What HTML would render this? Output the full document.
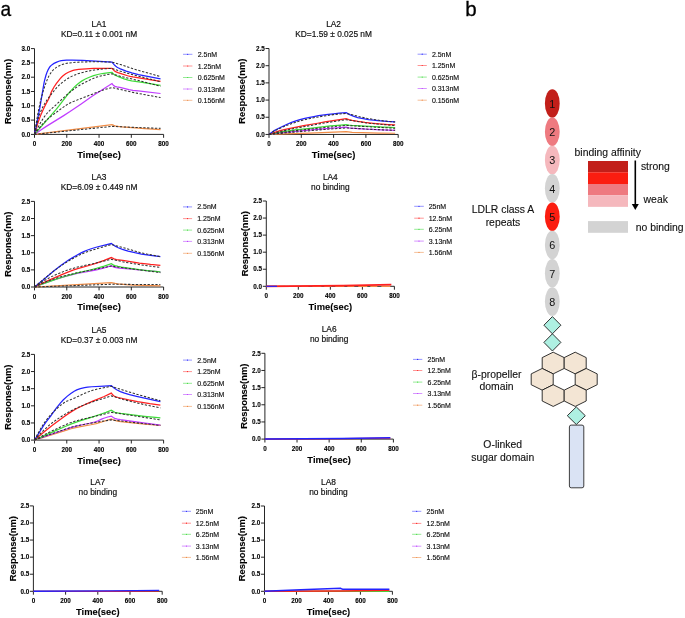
<!DOCTYPE html><html><head><meta charset="utf-8"><style>
html,body{margin:0;padding:0;background:#fff;}
body{width:685px;height:618px;overflow:hidden;}
svg{display:block;will-change:transform;}
text{font-family:"Liberation Sans", sans-serif;}
.ti{font-size:8.35px;fill:#111;stroke:#111;stroke-width:0.18px;text-anchor:middle;}
.tk{font-size:6.3px;font-weight:bold;fill:#000;stroke:#000;stroke-width:0.12px;}
.al{font-size:9.4px;font-weight:bold;fill:#000;stroke:#000;stroke-width:0.1px;text-anchor:middle;}
.lg{font-size:7px;fill:#111;stroke:#111;stroke-width:0.15px;}
.ax{stroke:#1a1a1a;stroke-width:0.95;fill:none;}
.fit{fill:none;stroke:#303030;stroke-width:1.05;stroke-dasharray:2.3 1.6;}
.fit2{fill:none;stroke:#1a1a1a;stroke-width:1.0;stroke-dasharray:2.6 1.9;opacity:0.55;}
.pl{font-size:19px;fill:#000;stroke:#000;stroke-width:0.3px;}
.on{font-size:10.8px;fill:#111;text-anchor:middle;}
.dm{fill:#aef0e2;stroke:#1e1e1e;stroke-width:0.9;}
.hx{fill:#f3e5d4;stroke:#1e1e1e;stroke-width:0.9;}
.rc{fill:#dae3f4;stroke:#2a2a2a;stroke-width:0.9;}
.bt{font-size:10.4px;fill:#111;stroke:#111;stroke-width:0.12px;text-anchor:middle;}
.bl{font-size:10.4px;fill:#111;stroke:#111;stroke-width:0.12px;}
</style></head><body>
<svg width="685" height="618" viewBox="0 0 685 618">
<text x="99.05" y="27" class="ti">LA1</text>
<text x="99.05" y="37" class="ti">KD=0.11 ± 0.001 nM</text>
<path d="M34.5 48.6 V134.4 H163.6" class="ax"/>
<path d="M31 134.4 H34.5" class="ax"/>
<text x="30.3" y="136.6" class="tk" text-anchor="end">0.0</text>
<path d="M31 120.1 H34.5" class="ax"/>
<text x="30.3" y="122.3" class="tk" text-anchor="end">0.5</text>
<path d="M31 105.8 H34.5" class="ax"/>
<text x="30.3" y="108" class="tk" text-anchor="end">1.0</text>
<path d="M31 91.5 H34.5" class="ax"/>
<text x="30.3" y="93.7" class="tk" text-anchor="end">1.5</text>
<path d="M31 77.2 H34.5" class="ax"/>
<text x="30.3" y="79.4" class="tk" text-anchor="end">2.0</text>
<path d="M31 62.9 H34.5" class="ax"/>
<text x="30.3" y="65.1" class="tk" text-anchor="end">2.5</text>
<path d="M31 48.6 H34.5" class="ax"/>
<text x="30.3" y="50.8" class="tk" text-anchor="end">3.0</text>
<path d="M34.5 134.4 V137.8" class="ax"/>
<text x="34.5" y="146.1" class="tk" text-anchor="middle">0</text>
<path d="M66.78 134.4 V137.8" class="ax"/>
<text x="66.78" y="146.1" class="tk" text-anchor="middle">200</text>
<path d="M99.05 134.4 V137.8" class="ax"/>
<text x="99.05" y="146.1" class="tk" text-anchor="middle">400</text>
<path d="M131.32 134.4 V137.8" class="ax"/>
<text x="131.32" y="146.1" class="tk" text-anchor="middle">600</text>
<path d="M163.6 134.4 V137.8" class="ax"/>
<text x="163.6" y="146.1" class="tk" text-anchor="middle">800</text>
<path d="M34.5 134.4 L111.96 124.68 L113.9 125.45 L115.03 125.79 L118.25 126.32 L122.13 126.77 L144.88 128.61 L160.53 129.54" fill="none" stroke="#f08c46" stroke-width="1.25"/>
<path d="M34.5 134.4 L40.47 130.25 L46.28 126.4 L63.71 115.62 L70 111.6 L80.81 104.26 L92.43 96.08 L111.96 83.49 L112.77 84.66 L113.41 85.36 L114.22 85.92 L115.03 86.3 L116.8 86.79 L121 87.61 L128.9 89.57 L132.94 90.26 L138.26 90.98 L160.53 93.5" fill="none" stroke="#c03cff" stroke-width="1.25"/>
<path d="M34.5 134.4 L55.96 109.56 L59.35 105.37 L67.42 94.91 L69.84 91.99 L74.04 87.42 L76.62 84.99 L78.72 83.2 L81.62 81.15 L85.33 79.05 L89.37 77.23 L93.56 75.68 L97.76 74.5 L102.28 73.51 L107.44 72.76 L111.96 72.34 L112.93 73.44 L113.9 74.32 L115.03 75.11 L116.32 75.78 L118.41 76.69 L124.06 78.84 L128.26 80.21 L131.65 80.92 L142.3 82.39 L160.53 85.49" fill="none" stroke="#3fdc3a" stroke-width="1.25"/>
<path d="M34.5 134.4 L37.57 124.04 L39.02 119.72 L40.47 115.87 L42.25 111.66 L44.51 106.82 L45.96 103.87 L48.38 99.55 L49.35 97.59 L49.83 96.4 L51.12 92.57 L51.77 91.1 L53.86 87.25 L56.29 83.66 L60 78.86 L61.45 77.26 L62.74 76.05 L65.65 73.83 L68.39 72.21 L72.42 70.59 L74.04 70.11 L75.49 69.81 L78.56 69.49 L93.56 68.39 L111.96 68.33 L114.54 70.96 L116.16 71.88 L117.93 72.61 L122.61 74.2 L127.61 75.75 L130.03 76.34 L132.94 76.9 L149.56 79.58 L160.53 81.49" fill="none" stroke="#ff2020" stroke-width="1.25"/>
<path d="M34.5 134.4 L39.83 107.8 L43.86 83.95 L44.51 80.63 L45.96 75.23 L47.25 71.63 L48.22 69.59 L49.19 67.86 L50.15 66.47 L50.96 65.61 L52.41 64.43 L54.03 63.42 L56.77 62.09 L58.87 61.22 L61.13 60.63 L66.45 60.13 L72.1 60.06 L82.75 60.37 L111.96 62.04 L114.7 65.32 L115.83 66.28 L117.12 67.18 L118.58 68.01 L120.35 68.84 L126.16 71.09 L131.81 72.85 L138.43 74.52 L160.53 78.92" fill="none" stroke="#2323ff" stroke-width="1.25"/>
<path d="M34.5 134.4 L36.6 120.77 L38.53 110.21 L40.63 100.59 L42.89 92.19 L44.18 88.04 L45.47 84.31 L46.93 80.41 L48.22 77.35 L49.19 75.48 L50.8 72.93 L52.25 71 L53.54 69.62 L54.99 68.42 L56.77 67.16 L58.38 66.2 L60 65.41 L62.1 64.62 L64.68 63.83 L66.94 63.29 L69.03 62.94 L73.23 62.51 L77.59 62.21 L89.04 61.84 L100.18 61.77 L111.96 62.04 L120.51 64.62 L129.71 67.66 L138.1 70.29 L151.34 73.95 L160.53 76.63" class="fit"/>
<path d="M34.5 134.4 L36.76 124.34 L38.7 117.17 L39.66 114.25 L40.63 111.76 L41.76 109.18 L43.05 106.58 L44.99 103.15 L47.09 99.84 L49.02 97.18 L53.06 92.01 L55.16 89.41 L56.93 87.42 L59.19 85.2 L61.45 83.17 L63.55 81.46 L65.48 80.06 L68.23 78.28 L70.65 76.89 L72.75 75.84 L75.01 74.89 L77.75 73.87 L80.49 73 L87.43 71.28 L94.21 70.03 L104.21 68.85 L111.96 68.33 L120.51 71.19 L129.87 74.01 L150.69 79.2 L160.53 81.78" class="fit"/>
<path d="M34.5 134.4 L37.89 127.51 L40.95 121.92 L43.7 117.58 L46.44 113.97 L48.22 111.99 L50.31 109.9 L56.77 104.11 L64.03 97.27 L67.58 94.13 L71.13 91.27 L76.3 87.42 L80.81 84.54 L84.04 82.85 L94.69 77.76 L97.11 76.9 L100.66 75.97 L106.8 74.67 L111.96 73.77 L116.96 75.34 L121.48 76.6 L140.52 81 L160.53 86.35" class="fit"/>
<path d="M34.5 134.4 L37.89 129.81 L40.95 126 L43.86 122.75 L46.76 119.9 L49.67 117.39 L53.06 114.74 L63.06 107.31 L67.1 104.61 L70 103.02 L73.71 101.37 L97.6 92.09 L104.21 89.73 L111.96 87.5 L131.65 92.13 L149.08 95.49 L160.53 97.51" class="fit"/>
<path d="M34.5 134.4 L111.96 126.39 L134.88 127.4 L160.53 128.39" class="fit"/>
<text x="99.05" y="157.8" class="al">Time(sec)</text>
<text transform="translate(10.9 91.5) rotate(-90)" x="0" y="0" class="al">Response(nm)</text>
<path d="M183 54.3 H192.4" stroke="#8a8aff" stroke-width="0.9"/>
<circle cx="187.7" cy="54.3" r="0.6" fill="#2323ff"/>
<text x="197.7" y="56.8" class="lg">2.5nM</text>
<path d="M183 66 H192.4" stroke="#ff8a8a" stroke-width="0.9"/>
<circle cx="187.7" cy="66" r="0.6" fill="#ff2020"/>
<text x="197.7" y="68.5" class="lg">1.25nM</text>
<path d="M183 77.5 H192.4" stroke="#8ae88a" stroke-width="0.9"/>
<circle cx="187.7" cy="77.5" r="0.6" fill="#3fdc3a"/>
<text x="197.7" y="80" class="lg">0.625nM</text>
<path d="M183 89 H192.4" stroke="#d28aff" stroke-width="0.9"/>
<circle cx="187.7" cy="89" r="0.6" fill="#c03cff"/>
<text x="197.7" y="91.5" class="lg">0.313nM</text>
<path d="M183 100.3 H192.4" stroke="#f4b98f" stroke-width="0.9"/>
<circle cx="187.7" cy="100.3" r="0.6" fill="#f08c46"/>
<text x="197.7" y="102.8" class="lg">0.156nM</text>
<text x="333.6" y="27" class="ti">LA2</text>
<text x="333.6" y="37" class="ti">KD=1.59 ± 0.025 nM</text>
<path d="M269 48.5 V134.45 H398.2" class="ax"/>
<path d="M265.5 134.45 H269" class="ax"/>
<text x="264.8" y="136.65" class="tk" text-anchor="end">0.0</text>
<path d="M265.5 117.26 H269" class="ax"/>
<text x="264.8" y="119.46" class="tk" text-anchor="end">0.5</text>
<path d="M265.5 100.07 H269" class="ax"/>
<text x="264.8" y="102.27" class="tk" text-anchor="end">1.0</text>
<path d="M265.5 82.88 H269" class="ax"/>
<text x="264.8" y="85.08" class="tk" text-anchor="end">1.5</text>
<path d="M265.5 65.69 H269" class="ax"/>
<text x="264.8" y="67.89" class="tk" text-anchor="end">2.0</text>
<path d="M265.5 48.5 H269" class="ax"/>
<text x="264.8" y="50.7" class="tk" text-anchor="end">2.5</text>
<path d="M269 134.45 V137.85" class="ax"/>
<text x="269" y="146.15" class="tk" text-anchor="middle">0</text>
<path d="M301.3 134.45 V137.85" class="ax"/>
<text x="301.3" y="146.15" class="tk" text-anchor="middle">200</text>
<path d="M333.6 134.45 V137.85" class="ax"/>
<text x="333.6" y="146.15" class="tk" text-anchor="middle">400</text>
<path d="M365.9 134.45 V137.85" class="ax"/>
<text x="365.9" y="146.15" class="tk" text-anchor="middle">600</text>
<path d="M398.2 134.45 V137.85" class="ax"/>
<text x="398.2" y="146.15" class="tk" text-anchor="middle">800</text>
<path d="M269 134.45 L309.7 133.09 L346.2 131.7 L352.17 132.34 L362.35 132.72 L378.82 133.12 L395.13 133.25" fill="none" stroke="#f08c46" stroke-width="1.25"/>
<path d="M269 134.45 L276.27 133.43 L282.89 132.62 L303.56 130.58 L323.1 128.9 L346.2 127.23 L348.78 127.77 L351.2 128.08 L365.9 129.19 L381.73 129.94 L395.13 130.32" fill="none" stroke="#c03cff" stroke-width="1.25"/>
<path d="M269 134.45 L275.3 133.11 L281.27 131.98 L288.54 130.78 L295 129.87 L310.02 128.28 L330.37 125.95 L337.8 125.26 L346.2 124.65 L348.94 125.08 L351.69 125.31 L374.14 126.54 L395.13 127.57" fill="none" stroke="#3fdc3a" stroke-width="1.25"/>
<path d="M269 134.45 L276.27 131.91 L280.14 130.68 L285.15 129.41 L291.45 128.05 L303.56 125.67 L317.61 123.25 L324.72 121.9 L346.2 118.64 L348.78 119.62 L352.17 120.43 L358.15 121.46 L364.93 122.41 L373.01 123.33 L379.79 123.97 L388.03 124.51 L395.13 124.82" fill="none" stroke="#ff2020" stroke-width="1.25"/>
<path d="M269 134.45 L271.91 132.17 L274.33 130.59 L277.24 129 L282.89 126.2 L287.09 124.27 L291.61 122.43 L295.16 121.15 L299.04 119.97 L303.72 118.73 L308.41 117.64 L313.9 116.52 L318.42 115.73 L328.11 114.4 L333.44 113.77 L339.25 113.2 L346.2 112.72 L349.75 114.65 L353.3 116.17 L357.66 117.54 L361.86 118.47 L368.48 119.52 L377.85 120.65 L386.73 121.41 L395.13 121.9" fill="none" stroke="#2323ff" stroke-width="1.25"/>
<path d="M269 134.45 L271.91 132.42 L274.33 130.99 L277.4 129.46 L282.57 127.13 L287.09 125.26 L292.09 123.39 L295.97 122.09 L300.49 120.78 L305.5 119.51 L310.51 118.4 L316 117.35 L322.62 116.22 L333.28 114.63 L339.58 113.96 L346.2 113.41 L353.63 115.11 L359.76 116.84 L366.87 118.28 L375.11 119.68 L380.76 120.53 L388.35 121.44 L395.13 122.07" class="fit"/>
<path d="M269 134.45 L275.46 132.68 L281.44 131.21 L288.06 129.75 L296.62 128.04 L324.23 123.01 L346.2 119.67 L356.69 121.4 L363.64 122.49 L369.13 123.24 L377.53 124.09 L395.13 125.51" class="fit"/>
<path d="M269 134.45 L289.35 131.48 L296.29 130.57 L325.2 127.52 L346.2 125.44 L369.78 126.82 L395.13 128.26" class="fit"/>
<path d="M269 134.45 L315.03 130.25 L330.53 129.02 L346.2 127.92 L369.13 129.2 L382.86 129.86 L395.13 130.32" class="fit"/>
<text x="333.6" y="157.85" class="al">Time(sec)</text>
<text transform="translate(244.9 91.2) rotate(-90)" x="0" y="0" class="al">Response(nm)</text>
<path d="M417.6 54.2 H426.8" stroke="#8a8aff" stroke-width="0.9"/>
<circle cx="422.2" cy="54.2" r="0.6" fill="#2323ff"/>
<text x="431.9" y="56.7" class="lg">2.5nM</text>
<path d="M417.6 65.5 H426.8" stroke="#ff8a8a" stroke-width="0.9"/>
<circle cx="422.2" cy="65.5" r="0.6" fill="#ff2020"/>
<text x="431.9" y="68" class="lg">1.25nM</text>
<path d="M417.6 77.1 H426.8" stroke="#8ae88a" stroke-width="0.9"/>
<circle cx="422.2" cy="77.1" r="0.6" fill="#3fdc3a"/>
<text x="431.9" y="79.6" class="lg">0.625nM</text>
<path d="M417.6 88.5 H426.8" stroke="#d28aff" stroke-width="0.9"/>
<circle cx="422.2" cy="88.5" r="0.6" fill="#c03cff"/>
<text x="431.9" y="91" class="lg">0.313nM</text>
<path d="M417.6 100.2 H426.8" stroke="#f4b98f" stroke-width="0.9"/>
<circle cx="422.2" cy="100.2" r="0.6" fill="#f08c46"/>
<text x="431.9" y="102.7" class="lg">0.156nM</text>
<text x="99.05" y="179.6" class="ti">LA3</text>
<text x="99.05" y="189.6" class="ti">KD=6.09 ± 0.449 nM</text>
<path d="M34.5 201.4 V287 H163.6" class="ax"/>
<path d="M31 287 H34.5" class="ax"/>
<text x="30.3" y="289.2" class="tk" text-anchor="end">0.0</text>
<path d="M31 269.88 H34.5" class="ax"/>
<text x="30.3" y="272.08" class="tk" text-anchor="end">0.5</text>
<path d="M31 252.76 H34.5" class="ax"/>
<text x="30.3" y="254.96" class="tk" text-anchor="end">1.0</text>
<path d="M31 235.64 H34.5" class="ax"/>
<text x="30.3" y="237.84" class="tk" text-anchor="end">1.5</text>
<path d="M31 218.52 H34.5" class="ax"/>
<text x="30.3" y="220.72" class="tk" text-anchor="end">2.0</text>
<path d="M31 201.4 H34.5" class="ax"/>
<text x="30.3" y="203.6" class="tk" text-anchor="end">2.5</text>
<path d="M34.5 287 V290.4" class="ax"/>
<text x="34.5" y="298.7" class="tk" text-anchor="middle">0</text>
<path d="M66.78 287 V290.4" class="ax"/>
<text x="66.78" y="298.7" class="tk" text-anchor="middle">200</text>
<path d="M99.05 287 V290.4" class="ax"/>
<text x="99.05" y="298.7" class="tk" text-anchor="middle">400</text>
<path d="M131.32 287 V290.4" class="ax"/>
<text x="131.32" y="298.7" class="tk" text-anchor="middle">600</text>
<path d="M163.6 287 V290.4" class="ax"/>
<text x="163.6" y="298.7" class="tk" text-anchor="middle">800</text>
<path d="M34.5 287 L77.26 284.71 L111.31 282.55 L115.19 283.4 L117.61 283.82 L126.16 284.59 L133.26 285.01 L143.91 285.48 L160.37 285.97" fill="none" stroke="#f08c46" stroke-width="1.25"/>
<path d="M34.5 287 L42.57 283.88 L50.31 281.13 L59.35 278.24 L67.26 275.92 L72.42 274.57 L77.1 273.49 L91.3 270.85 L96.47 269.77 L103.41 268.03 L111.31 265.77 L113.41 266.86 L114.7 267.37 L119.06 268.09 L122.77 268.47 L131.16 269.13 L160.37 271.93" fill="none" stroke="#c03cff" stroke-width="1.25"/>
<path d="M34.5 287 L41.92 284.16 L49.19 281.56 L56.29 279.18 L64.03 276.75 L70.49 274.85 L76.46 273.22 L91.14 269.75 L96.47 268.38 L104.21 266.06 L111.31 263.72 L113.57 265.08 L114.86 265.67 L117.93 266.47 L121.48 267.16 L144.56 270.27 L152.79 271.21 L160.37 271.93" fill="none" stroke="#3fdc3a" stroke-width="1.25"/>
<path d="M34.5 287 L42.73 283.01 L50.8 279.31 L61.77 274.58 L69.2 271.58 L73.71 269.93 L77.75 268.6 L91.47 264.76 L96.47 263.21 L104.21 260.4 L111.31 257.55 L114.06 258.92 L115.03 259.23 L116.48 259.51 L122.77 260.32 L139.39 263.03 L150.53 264.43 L160.37 265.43" fill="none" stroke="#ff2020" stroke-width="1.25"/>
<path d="M34.5 287 L44.34 278.99 L53.38 271.35 L61.13 265.25 L64.35 262.91 L68.23 260.34 L72.26 257.85 L76.78 255.25 L80.65 253.13 L83.72 251.61 L86.95 250.27 L90.5 248.98 L94.37 247.74 L97.92 246.74 L111.31 243.52 L115.19 246.16 L118.25 247.73 L122.45 249.36 L128.1 251.04 L134.88 252.69 L141.49 254.01 L150.53 255.41 L160.37 256.7" fill="none" stroke="#2323ff" stroke-width="1.25"/>
<path d="M34.5 287 L48.06 275.57 L54.83 270.2 L59.35 266.94 L63.55 264.1 L68.55 260.96 L72.91 258.43 L80.49 254.54 L83.56 253.17 L86.46 252.04 L90.34 250.74 L98.08 248.35 L111.31 244.54 L125.84 248.35 L136.49 251.54 L140.68 252.68 L146.66 254 L160.37 256.7" class="fit"/>
<path d="M34.5 287 L38.7 284.16 L42.57 281.7 L46.28 279.5 L49.83 277.56 L53.22 275.88 L57.09 274.15 L61.29 272.42 L65.48 270.83 L71.78 268.73 L77.75 267.05 L82.59 265.92 L95.34 263.18 L111.31 259.27 L122.61 261.76 L132.29 263.53 L147.46 265.82 L154.08 266.65 L160.37 267.31" class="fit"/>
<path d="M34.5 287 L42.08 283.49 L49.02 280.66 L55.32 278.47 L62.9 276.24 L70 274.43 L77.75 272.67 L95.34 269.32 L111.31 266.11 L134.88 269.32 L160.37 272.62" class="fit"/>
<path d="M34.5 287 L111.31 284.26 L160.37 284.6" class="fit"/>
<text x="99.05" y="310.4" class="al">Time(sec)</text>
<text transform="translate(10.9 244.2) rotate(-90)" x="0" y="0" class="al">Response(nm)</text>
<path d="M183 206.9 H192.1" stroke="#8a8aff" stroke-width="0.9"/>
<circle cx="187.55" cy="206.9" r="0.6" fill="#2323ff"/>
<text x="197.2" y="209.4" class="lg">2.5nM</text>
<path d="M183 218.6 H192.1" stroke="#ff8a8a" stroke-width="0.9"/>
<circle cx="187.55" cy="218.6" r="0.6" fill="#ff2020"/>
<text x="197.2" y="221.1" class="lg">1.25nM</text>
<path d="M183 230.1 H192.1" stroke="#8ae88a" stroke-width="0.9"/>
<circle cx="187.55" cy="230.1" r="0.6" fill="#3fdc3a"/>
<text x="197.2" y="232.6" class="lg">0.625nM</text>
<path d="M183 241.4 H192.1" stroke="#d28aff" stroke-width="0.9"/>
<circle cx="187.55" cy="241.4" r="0.6" fill="#c03cff"/>
<text x="197.2" y="243.9" class="lg">0.313nM</text>
<path d="M183 253.3 H192.1" stroke="#f4b98f" stroke-width="0.9"/>
<circle cx="187.55" cy="253.3" r="0.6" fill="#f08c46"/>
<text x="197.2" y="255.8" class="lg">0.156nM</text>
<text x="330.35" y="179.6" class="ti">LA4</text>
<text x="330.35" y="189.6" class="ti">no binding</text>
<path d="M266.3 201 V286.3 H394.4" class="ax"/>
<path d="M262.8 286.3 H266.3" class="ax"/>
<text x="262.1" y="288.5" class="tk" text-anchor="end">0.0</text>
<path d="M262.8 269.24 H266.3" class="ax"/>
<text x="262.1" y="271.44" class="tk" text-anchor="end">0.5</text>
<path d="M262.8 252.18 H266.3" class="ax"/>
<text x="262.1" y="254.38" class="tk" text-anchor="end">1.0</text>
<path d="M262.8 235.12 H266.3" class="ax"/>
<text x="262.1" y="237.32" class="tk" text-anchor="end">1.5</text>
<path d="M262.8 218.06 H266.3" class="ax"/>
<text x="262.1" y="220.26" class="tk" text-anchor="end">2.0</text>
<path d="M262.8 201 H266.3" class="ax"/>
<text x="262.1" y="203.2" class="tk" text-anchor="end">2.5</text>
<path d="M266.3 286.3 V289.7" class="ax"/>
<text x="266.3" y="298" class="tk" text-anchor="middle">0</text>
<path d="M298.32 286.3 V289.7" class="ax"/>
<text x="298.32" y="298" class="tk" text-anchor="middle">200</text>
<path d="M330.35 286.3 V289.7" class="ax"/>
<text x="330.35" y="298" class="tk" text-anchor="middle">400</text>
<path d="M362.38 286.3 V289.7" class="ax"/>
<text x="362.38" y="298" class="tk" text-anchor="middle">600</text>
<path d="M394.4 286.3 V289.7" class="ax"/>
<text x="394.4" y="298" class="tk" text-anchor="middle">800</text>
<path d="M266.3 286.3 L343.16 286.4 L391.36 286.4" fill="none" stroke="#f08c46" stroke-width="1.2" stroke-dasharray="9 3 7 4"/>
<path d="M266.3 286.3 L343.16 285.62 L391.36 284.59" fill="none" stroke="#ff2020" stroke-width="1.8"/>
<path d="M266.3 286.3 L277.03 286.3" fill="none" stroke="#2323ff" stroke-width="1.2"/>
<text x="330.35" y="309.7" class="al">Time(sec)</text>
<text transform="translate(247.7 243.6) rotate(-90)" x="0" y="0" class="al">Response(nm)</text>
<path d="M414.2 206.3 H423.8" stroke="#8a8aff" stroke-width="0.9"/>
<circle cx="419" cy="206.3" r="0.6" fill="#2323ff"/>
<text x="428.7" y="208.8" class="lg">25nM</text>
<path d="M414.2 218.2 H423.8" stroke="#ff8a8a" stroke-width="0.9"/>
<circle cx="419" cy="218.2" r="0.6" fill="#ff2020"/>
<text x="428.7" y="220.7" class="lg">12.5nM</text>
<path d="M414.2 229.3 H423.8" stroke="#8ae88a" stroke-width="0.9"/>
<circle cx="419" cy="229.3" r="0.6" fill="#3fdc3a"/>
<text x="428.7" y="231.8" class="lg">6.25nM</text>
<path d="M414.2 241.1 H423.8" stroke="#d28aff" stroke-width="0.9"/>
<circle cx="419" cy="241.1" r="0.6" fill="#c03cff"/>
<text x="428.7" y="243.6" class="lg">3.13nM</text>
<path d="M414.2 252.4 H423.8" stroke="#f4b98f" stroke-width="0.9"/>
<circle cx="419" cy="252.4" r="0.6" fill="#f08c46"/>
<text x="428.7" y="254.9" class="lg">1.56nM</text>
<text x="99.05" y="332.6" class="ti">LA5</text>
<text x="99.05" y="342.6" class="ti">KD=0.37 ± 0.003 nM</text>
<path d="M34.5 354.4 V440.1 H163.6" class="ax"/>
<path d="M31 440.1 H34.5" class="ax"/>
<text x="30.3" y="442.3" class="tk" text-anchor="end">0.0</text>
<path d="M31 422.96 H34.5" class="ax"/>
<text x="30.3" y="425.16" class="tk" text-anchor="end">0.5</text>
<path d="M31 405.82 H34.5" class="ax"/>
<text x="30.3" y="408.02" class="tk" text-anchor="end">1.0</text>
<path d="M31 388.68 H34.5" class="ax"/>
<text x="30.3" y="390.88" class="tk" text-anchor="end">1.5</text>
<path d="M31 371.54 H34.5" class="ax"/>
<text x="30.3" y="373.74" class="tk" text-anchor="end">2.0</text>
<path d="M31 354.4 H34.5" class="ax"/>
<text x="30.3" y="356.6" class="tk" text-anchor="end">2.5</text>
<path d="M34.5 440.1 V443.5" class="ax"/>
<text x="34.5" y="451.8" class="tk" text-anchor="middle">0</text>
<path d="M66.78 440.1 V443.5" class="ax"/>
<text x="66.78" y="451.8" class="tk" text-anchor="middle">200</text>
<path d="M99.05 440.1 V443.5" class="ax"/>
<text x="99.05" y="451.8" class="tk" text-anchor="middle">400</text>
<path d="M131.32 440.1 V443.5" class="ax"/>
<text x="131.32" y="451.8" class="tk" text-anchor="middle">600</text>
<path d="M163.6 440.1 V443.5" class="ax"/>
<text x="163.6" y="451.8" class="tk" text-anchor="middle">800</text>
<path d="M34.5 440.1 L65.81 430.29 L70.97 428.76 L74.52 427.84 L77.91 427.09 L90.82 424.75 L96.15 423.61 L100.99 422.22 L111.31 418.85 L113.57 419.99 L114.86 420.48 L117.61 421.04 L120.67 421.51 L144.88 424.03 L160.37 425.36" fill="none" stroke="#f08c46" stroke-width="1.25"/>
<path d="M34.5 440.1 L65.65 429.27 L70.81 427.57 L74.36 426.52 L77.43 425.74 L89.53 423.25 L94.53 422.02 L97.44 421.07 L102.12 418.93 L103.89 418.22 L107.76 417 L111.31 416.1 L113.57 417.71 L114.86 418.39 L117.45 419.11 L120.35 419.72 L145.2 423.21 L160.37 425.02" fill="none" stroke="#c03cff" stroke-width="1.25"/>
<path d="M34.5 440.1 L51.77 432.31 L65.16 426.49 L72.1 423.65 L79.85 420.88 L93.56 416.55 L101.15 414.03 L105.99 412.31 L111.31 410.28 L113.57 411.65 L114.86 412.24 L117.61 412.9 L120.67 413.45 L144.56 416.31 L152.79 417.15 L160.37 417.82" fill="none" stroke="#3fdc3a" stroke-width="1.25"/>
<path d="M34.5 440.1 L43.05 432.8 L52.41 425.28 L64.68 416.18 L68.71 413.38 L72.26 411.11 L76.78 408.54 L82.43 405.8 L92.76 401.18 L104.21 396.49 L111.31 393.14 L112.93 395.05 L114.06 396.04 L115.83 396.83 L118.09 397.5 L128.74 399.97 L137.62 401.73 L149.72 403.73 L160.37 405.13" fill="none" stroke="#ff2020" stroke-width="1.25"/>
<path d="M34.5 440.1 L44.02 424.91 L45.96 422.21 L50.64 416.1 L56.29 408.22 L60.32 403.18 L63.39 399.79 L67.1 396.36 L70.81 393.47 L74.2 391.24 L76.78 389.91 L80.33 388.61 L84.53 387.58 L87.59 387.13 L91.79 386.75 L104.21 386.1 L111.31 385.59 L113.74 387.78 L115.19 388.83 L116.64 389.72 L120.35 391.58 L124.55 393.13 L129.55 394.59 L136.65 396.4 L160.37 401.54" fill="none" stroke="#2323ff" stroke-width="1.25"/>
<path d="M34.5 440.1 L37.89 433.57 L41.76 426.74 L43.86 423.42 L46.6 419.7 L50.15 415.39 L53.7 411.6 L58.87 406.72 L60.97 404.96 L62.74 403.63 L64.84 402.3 L67.26 401.07 L74.68 398.01 L83.88 393.61 L90.01 391.23 L93.89 389.95 L97.44 389.01 L111.31 386.28 L122.77 390.01 L134.39 393.56 L147.79 397.34 L160.37 400.68" class="fit"/>
<path d="M34.5 440.1 L38.37 435.72 L42.08 431.85 L46.12 428.02 L49.99 424.63 L53.38 421.95 L57.74 418.88 L62.42 415.8 L67.1 412.98 L71.13 410.76 L75.17 408.75 L79.85 406.66 L84.85 404.63 L90.01 402.72 L95.98 400.68 L104.05 398.28 L111.31 395.88 L123.09 399.4 L133.42 402.1 L147.62 405.38 L160.37 407.88" class="fit"/>
<path d="M34.5 440.1 L43.21 435.33 L51.61 431.11 L63.87 425.45 L67.9 423.74 L71.45 422.38 L75.49 421.05 L80.49 419.68 L94.85 416.38 L111.31 412.33 L160.37 419.87" class="fit"/>
<path d="M34.5 440.1 L43.54 436.71 L52.41 433.56 L65.81 429 L73.07 426.84 L79.69 425.29 L87.59 423.75 L100.5 421.52 L111.31 419.87 L134.55 422.64 L160.37 425.36" class="fit"/>
<text x="99.05" y="463.5" class="al">Time(sec)</text>
<text transform="translate(10.9 397.2) rotate(-90)" x="0" y="0" class="al">Response(nm)</text>
<path d="M183 360.1 H192" stroke="#8a8aff" stroke-width="0.9"/>
<circle cx="187.5" cy="360.1" r="0.6" fill="#2323ff"/>
<text x="197.2" y="362.6" class="lg">2.5nM</text>
<path d="M183 371.6 H192" stroke="#ff8a8a" stroke-width="0.9"/>
<circle cx="187.5" cy="371.6" r="0.6" fill="#ff2020"/>
<text x="197.2" y="374.1" class="lg">1.25nM</text>
<path d="M183 383.3 H192" stroke="#8ae88a" stroke-width="0.9"/>
<circle cx="187.5" cy="383.3" r="0.6" fill="#3fdc3a"/>
<text x="197.2" y="385.8" class="lg">0.625nM</text>
<path d="M183 394.5 H192" stroke="#d28aff" stroke-width="0.9"/>
<circle cx="187.5" cy="394.5" r="0.6" fill="#c03cff"/>
<text x="197.2" y="397" class="lg">0.313nM</text>
<path d="M183 406.4 H192" stroke="#f4b98f" stroke-width="0.9"/>
<circle cx="187.5" cy="406.4" r="0.6" fill="#f08c46"/>
<text x="197.2" y="408.9" class="lg">0.156nM</text>
<text x="329.15" y="332.4" class="ti">LA6</text>
<text x="329.15" y="342.4" class="ti">no binding</text>
<path d="M264.9 353.3 V439.1 H393.4" class="ax"/>
<path d="M261.4 439.1 H264.9" class="ax"/>
<text x="260.7" y="441.3" class="tk" text-anchor="end">0.0</text>
<path d="M261.4 421.94 H264.9" class="ax"/>
<text x="260.7" y="424.14" class="tk" text-anchor="end">0.5</text>
<path d="M261.4 404.78 H264.9" class="ax"/>
<text x="260.7" y="406.98" class="tk" text-anchor="end">1.0</text>
<path d="M261.4 387.62 H264.9" class="ax"/>
<text x="260.7" y="389.82" class="tk" text-anchor="end">1.5</text>
<path d="M261.4 370.46 H264.9" class="ax"/>
<text x="260.7" y="372.66" class="tk" text-anchor="end">2.0</text>
<path d="M261.4 353.3 H264.9" class="ax"/>
<text x="260.7" y="355.5" class="tk" text-anchor="end">2.5</text>
<path d="M264.9 439.1 V442.5" class="ax"/>
<text x="264.9" y="450.8" class="tk" text-anchor="middle">0</text>
<path d="M297.02 439.1 V442.5" class="ax"/>
<text x="297.02" y="450.8" class="tk" text-anchor="middle">200</text>
<path d="M329.15 439.1 V442.5" class="ax"/>
<text x="329.15" y="450.8" class="tk" text-anchor="middle">400</text>
<path d="M361.27 439.1 V442.5" class="ax"/>
<text x="361.27" y="450.8" class="tk" text-anchor="middle">600</text>
<path d="M393.4 439.1 V442.5" class="ax"/>
<text x="393.4" y="450.8" class="tk" text-anchor="middle">800</text>
<path d="M264.9 439.1 L342 438.59 L390.35 438.07" fill="none" stroke="#ff2020" stroke-width="1.25"/>
<path d="M264.9 439.1 L342 438.41 L390.35 437.73" fill="none" stroke="#2323ff" stroke-width="1.5"/>
<text x="329.15" y="462.5" class="al">Time(sec)</text>
<text transform="translate(246.5 396.2) rotate(-90)" x="0" y="0" class="al">Response(nm)</text>
<path d="M413 359.4 H422.3" stroke="#8a8aff" stroke-width="0.9"/>
<circle cx="417.65" cy="359.4" r="0.6" fill="#2323ff"/>
<text x="427.5" y="361.9" class="lg">25nM</text>
<path d="M413 370.5 H422.3" stroke="#ff8a8a" stroke-width="0.9"/>
<circle cx="417.65" cy="370.5" r="0.6" fill="#ff2020"/>
<text x="427.5" y="373" class="lg">12.5nM</text>
<path d="M413 382.1 H422.3" stroke="#8ae88a" stroke-width="0.9"/>
<circle cx="417.65" cy="382.1" r="0.6" fill="#3fdc3a"/>
<text x="427.5" y="384.6" class="lg">6.25nM</text>
<path d="M413 393.5 H422.3" stroke="#d28aff" stroke-width="0.9"/>
<circle cx="417.65" cy="393.5" r="0.6" fill="#c03cff"/>
<text x="427.5" y="396" class="lg">3.13nM</text>
<path d="M413 405.2 H422.3" stroke="#f4b98f" stroke-width="0.9"/>
<circle cx="417.65" cy="405.2" r="0.6" fill="#f08c46"/>
<text x="427.5" y="407.7" class="lg">1.56nM</text>
<text x="97.8" y="484.8" class="ti">LA7</text>
<text x="97.8" y="494.8" class="ti">no binding</text>
<path d="M33.4 505.9 V591.3 H162.2" class="ax"/>
<path d="M29.9 591.3 H33.4" class="ax"/>
<text x="29.2" y="593.5" class="tk" text-anchor="end">0.0</text>
<path d="M29.9 574.22 H33.4" class="ax"/>
<text x="29.2" y="576.42" class="tk" text-anchor="end">0.5</text>
<path d="M29.9 557.14 H33.4" class="ax"/>
<text x="29.2" y="559.34" class="tk" text-anchor="end">1.0</text>
<path d="M29.9 540.06 H33.4" class="ax"/>
<text x="29.2" y="542.26" class="tk" text-anchor="end">1.5</text>
<path d="M29.9 522.98 H33.4" class="ax"/>
<text x="29.2" y="525.18" class="tk" text-anchor="end">2.0</text>
<path d="M29.9 505.9 H33.4" class="ax"/>
<text x="29.2" y="508.1" class="tk" text-anchor="end">2.5</text>
<path d="M33.4 591.3 V594.7" class="ax"/>
<text x="33.4" y="603" class="tk" text-anchor="middle">0</text>
<path d="M65.6 591.3 V594.7" class="ax"/>
<text x="65.6" y="603" class="tk" text-anchor="middle">200</text>
<path d="M97.8 591.3 V594.7" class="ax"/>
<text x="97.8" y="603" class="tk" text-anchor="middle">400</text>
<path d="M130 591.3 V594.7" class="ax"/>
<text x="130" y="603" class="tk" text-anchor="middle">600</text>
<path d="M162.2 591.3 V594.7" class="ax"/>
<text x="162.2" y="603" class="tk" text-anchor="middle">800</text>
<path d="M33.4 591.3 L110.68 591.3 L159.14 590.96" fill="none" stroke="#ff2020" stroke-width="1.25"/>
<path d="M33.4 591.3 L110.68 590.89 L159.14 590.34" fill="none" stroke="#2323ff" stroke-width="1.4"/>
<text x="97.8" y="614.7" class="al">Time(sec)</text>
<text transform="translate(15.6 548.6) rotate(-90)" x="0" y="0" class="al">Response(nm)</text>
<path d="M181.9 511.3 H191" stroke="#8a8aff" stroke-width="0.9"/>
<circle cx="186.45" cy="511.3" r="0.6" fill="#2323ff"/>
<text x="195.8" y="513.8" class="lg">25nM</text>
<path d="M181.9 523.2 H191" stroke="#ff8a8a" stroke-width="0.9"/>
<circle cx="186.45" cy="523.2" r="0.6" fill="#ff2020"/>
<text x="195.8" y="525.7" class="lg">12.5nM</text>
<path d="M181.9 534.3 H191" stroke="#8ae88a" stroke-width="0.9"/>
<circle cx="186.45" cy="534.3" r="0.6" fill="#3fdc3a"/>
<text x="195.8" y="536.8" class="lg">6.25nM</text>
<path d="M181.9 546.1 H191" stroke="#d28aff" stroke-width="0.9"/>
<circle cx="186.45" cy="546.1" r="0.6" fill="#c03cff"/>
<text x="195.8" y="548.6" class="lg">3.13nM</text>
<path d="M181.9 557.4 H191" stroke="#f4b98f" stroke-width="0.9"/>
<circle cx="186.45" cy="557.4" r="0.6" fill="#f08c46"/>
<text x="195.8" y="559.9" class="lg">1.56nM</text>
<text x="328.45" y="484.8" class="ti">LA8</text>
<text x="328.45" y="494.8" class="ti">no binding</text>
<path d="M264.5 506 V591.3 H392.4" class="ax"/>
<path d="M261 591.3 H264.5" class="ax"/>
<text x="260.3" y="593.5" class="tk" text-anchor="end">0.0</text>
<path d="M261 574.24 H264.5" class="ax"/>
<text x="260.3" y="576.44" class="tk" text-anchor="end">0.5</text>
<path d="M261 557.18 H264.5" class="ax"/>
<text x="260.3" y="559.38" class="tk" text-anchor="end">1.0</text>
<path d="M261 540.12 H264.5" class="ax"/>
<text x="260.3" y="542.32" class="tk" text-anchor="end">1.5</text>
<path d="M261 523.06 H264.5" class="ax"/>
<text x="260.3" y="525.26" class="tk" text-anchor="end">2.0</text>
<path d="M261 506 H264.5" class="ax"/>
<text x="260.3" y="508.2" class="tk" text-anchor="end">2.5</text>
<path d="M264.5 591.3 V594.7" class="ax"/>
<text x="264.5" y="603" class="tk" text-anchor="middle">0</text>
<path d="M296.47 591.3 V594.7" class="ax"/>
<text x="296.47" y="603" class="tk" text-anchor="middle">200</text>
<path d="M328.45 591.3 V594.7" class="ax"/>
<text x="328.45" y="603" class="tk" text-anchor="middle">400</text>
<path d="M360.42 591.3 V594.7" class="ax"/>
<text x="360.42" y="603" class="tk" text-anchor="middle">600</text>
<path d="M392.4 591.3 V594.7" class="ax"/>
<text x="392.4" y="603" class="tk" text-anchor="middle">800</text>
<path d="M264.5 591.3 L341.24 591.3 L389.36 591.3" fill="none" stroke="#3fdc3a" stroke-width="1.3"/>
<path d="M264.5 591.3 L341.24 590.96 L389.36 590.28" fill="none" stroke="#ff2020" stroke-width="1.4"/>
<path d="M264.5 591.3 L300.79 589.68 L340.6 588.3 L342.04 589.05 L342.84 589.25 L389.36 589.32" fill="none" stroke="#2323ff" stroke-width="1.4"/>
<text x="328.45" y="614.7" class="al">Time(sec)</text>
<text transform="translate(245.2 548.6) rotate(-90)" x="0" y="0" class="al">Response(nm)</text>
<path d="M412.1 511.3 H421.3" stroke="#8a8aff" stroke-width="0.9"/>
<circle cx="416.7" cy="511.3" r="0.6" fill="#2323ff"/>
<text x="426.6" y="513.8" class="lg">25nM</text>
<path d="M412.1 523.4 H421.3" stroke="#ff8a8a" stroke-width="0.9"/>
<circle cx="416.7" cy="523.4" r="0.6" fill="#ff2020"/>
<text x="426.6" y="525.9" class="lg">12.5nM</text>
<path d="M412.1 534.3 H421.3" stroke="#8ae88a" stroke-width="0.9"/>
<circle cx="416.7" cy="534.3" r="0.6" fill="#3fdc3a"/>
<text x="426.6" y="536.8" class="lg">6.25nM</text>
<path d="M412.1 546.2 H421.3" stroke="#d28aff" stroke-width="0.9"/>
<circle cx="416.7" cy="546.2" r="0.6" fill="#c03cff"/>
<text x="426.6" y="548.7" class="lg">3.13nM</text>
<path d="M412.1 557.5 H421.3" stroke="#f4b98f" stroke-width="0.9"/>
<circle cx="416.7" cy="557.5" r="0.6" fill="#f08c46"/>
<text x="426.6" y="560" class="lg">1.56nM</text>
<text transform="translate(0.4 16.1) scale(0.92 1)" class="pl" style="font-size:20.8px">a</text>
<text transform="translate(465.2 15.9) scale(1 1)" class="pl" style="font-size:20.5px">b</text>
<ellipse cx="552.3" cy="103.45" rx="7.4" ry="14.25" fill="#c21f1a"/>
<text x="552.3" y="107.85" class="on">1</text>
<ellipse cx="552.3" cy="131.75" rx="7.4" ry="14.25" fill="#ee7a80"/>
<text x="552.3" y="136.15" class="on">2</text>
<ellipse cx="552.3" cy="160.05" rx="7.4" ry="14.25" fill="#f5b8bd"/>
<text x="552.3" y="164.45" class="on">3</text>
<ellipse cx="552.3" cy="188.35" rx="7.4" ry="14.25" fill="#d3d3d3"/>
<text x="552.3" y="192.75" class="on">4</text>
<ellipse cx="552.3" cy="216.65" rx="7.4" ry="14.25" fill="#fb1d10"/>
<text x="552.3" y="221.05" class="on">5</text>
<ellipse cx="552.3" cy="244.95" rx="7.4" ry="14.25" fill="#d3d3d3"/>
<text x="552.3" y="249.35" class="on">6</text>
<ellipse cx="552.3" cy="273.25" rx="7.4" ry="14.25" fill="#d3d3d3"/>
<text x="552.3" y="277.65" class="on">7</text>
<ellipse cx="552.3" cy="301.55" rx="7.4" ry="14.25" fill="#d3d3d3"/>
<text x="552.3" y="305.95" class="on">8</text>
<path d="M552.4 316.6 L560.9 325.2 L552.4 333.8 L543.9 325.2 Z" class="dm"/>
<path d="M552.4 333.8 L560.9 342.4 L552.4 351 L543.9 342.4 Z" class="dm"/>
<path d="M553.2 352.18 L564.2 357.6 L564.2 368.45 L553.2 373.88 L542.2 368.45 L542.2 357.6 Z" class="hx"/>
<path d="M575.2 352.18 L586.2 357.6 L586.2 368.45 L575.2 373.88 L564.2 368.45 L564.2 357.6 Z" class="hx"/>
<path d="M542.2 368.45 L553.2 373.88 L553.2 384.73 L542.2 390.15 L531.2 384.73 L531.2 373.88 Z" class="hx"/>
<path d="M586.2 368.45 L597.2 373.88 L597.2 384.73 L586.2 390.15 L575.2 384.73 L575.2 373.88 Z" class="hx"/>
<path d="M553.2 384.72 L564.2 390.15 L564.2 401 L553.2 406.43 L542.2 401 L542.2 390.15 Z" class="hx"/>
<path d="M575.2 384.72 L586.2 390.15 L586.2 401 L575.2 406.43 L564.2 401 L564.2 390.15 Z" class="hx"/>
<path d="M576.3 406.9 L585.3 415.7 L576.3 424.5 L567.3 415.7 Z" class="dm"/>
<rect x="569.4" y="425.1" width="14.4" height="62.7" rx="1.8" class="rc"/>
<text x="503" y="213.2" class="bt">LDLR class A</text>
<text x="503" y="225.9" class="bt">repeats</text>
<text x="496.5" y="377.8" class="bt">β-propeller</text>
<text x="496.5" y="390.0" class="bt">domain</text>
<text x="502.7" y="448.4" class="bt">O-linked</text>
<text x="502.7" y="461.0" class="bt">sugar domain</text>
<text x="574.6" y="155.7" class="bl">binding affinity</text>
<rect x="588" y="161" width="40" height="11.35" fill="#c21f1a"/>
<rect x="588" y="172.3" width="40" height="11.75" fill="#fb1d10"/>
<rect x="588" y="184" width="40" height="11.25" fill="#ee7a80"/>
<rect x="588" y="195.2" width="40" height="11.65" fill="#f5b8bd"/>
<rect x="588" y="221.1" width="40" height="11.7" fill="#d3d3d3"/>
<path d="M635.3 160.5 V204.5" stroke="#000" stroke-width="1.6"/>
<path d="M631.8 203.9 L638.8 203.9 L635.3 210 Z" fill="#000"/>
<text x="640.9" y="169.5" class="bl">strong</text>
<text x="643.6" y="202.6" class="bl">weak</text>
<text x="635.7" y="230.7" class="bl">no binding</text>
</svg></body></html>
